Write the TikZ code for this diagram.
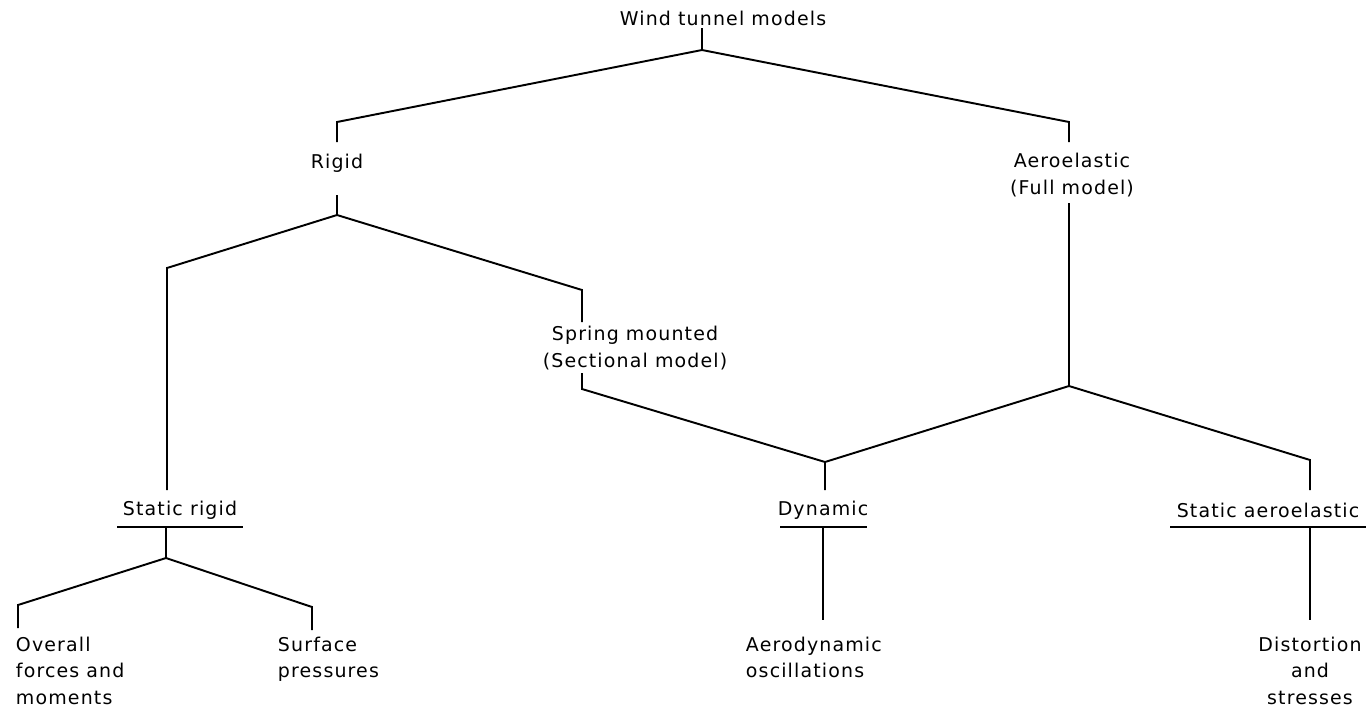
\documentclass[tikz,border=0pt]{standalone}
\usepackage{fontspec}
\setmainfont{DejaVu Sans}[LetterSpace=6]
\begin{document}
\begin{tikzpicture}[x=0.02cm,y=-0.02cm,
  line width=1.1pt,
  lbl/.style={inner sep=0pt, font=\fontsize{10.8}{15}\selectfont},
  conn/.style={draw=black, line width=1.1pt, line join=miter}]
\useasboundingbox (0,0) rectangle (1371,711);

% text nodes
\node[lbl] (wtm) at (723,18) {Wind tunnel models};
\node[lbl] (rigid) at (337,163) {Rigid};
\node[lbl,align=center] (aero) at (1072,175) {Aeroelastic\\(Full model)};
\node[lbl,align=center] (spring) at (635,348) {Spring mounted\\(Sectional model)};
\node[lbl] (srig) at (180,510) {Static rigid};
\node[lbl] (dyn) at (823,510) {Dynamic};
\node[lbl] (saero) at (1268,510) {Static aeroelastic};
\node[lbl,align=left,anchor=north west] (overall) at (15,636) {Overall\\forces and\\moments};
\node[lbl,align=left,anchor=north west] (surf) at (277,636) {Surface\\pressures};
\node[lbl,align=left,anchor=north west] (aerod) at (745,636) {Aerodynamic\\oscillations};
\node[lbl,align=center,anchor=north] (dist) at (1310,636) {Distortion\\and\\stresses};

% connector points
\coordinate (wtm-b) at (702,28);
\coordinate (j0) at (702,50);
\coordinate (k1) at (337,122);
\coordinate (rig-t) at (337,142);
\coordinate (k2) at (1069,122);
\coordinate (aero-t) at (1069,142);
\coordinate (rig-b) at (337,195);
\coordinate (j1) at (337,215);
\coordinate (k3) at (167,268);
\coordinate (srig-t) at (167,490);
\coordinate (k4) at (582,290);
\coordinate (spr-t) at (582,322);
\coordinate (spr-b) at (582,373);
\coordinate (k5) at (582,389);
\coordinate (aero-b) at (1069,203);
\coordinate (j2) at (1069,386);
\coordinate (j3) at (825,462);
\coordinate (dyn-t) at (825,490);
\coordinate (k6) at (1310,460);
\coordinate (saero-t) at (1310,490);
% underlines
\coordinate (ul1a) at (117,527);
\coordinate (ul1b) at (243,527);
\coordinate (ul2a) at (780,527);
\coordinate (ul2b) at (867,527);
\coordinate (ul3a) at (1170,527);
\coordinate (ul3b) at (1366,527);
\coordinate (srig-b) at (166,527);
\coordinate (j4) at (166,558);
\coordinate (k7) at (18,605);
\coordinate (ov-t) at (18,628);
\coordinate (k8) at (312,607);
\coordinate (su-t) at (312,630);
\coordinate (dyn-b) at (823,527);
\coordinate (aerod-t) at (823,620);
\coordinate (saero-b) at (1310,527);
\coordinate (dist-t) at (1310,620);

% connectors
\draw[conn] (wtm-b) -- (j0);
\draw[conn] (rig-t) -- (k1) -- (j0) -- (k2) -- (aero-t);
\draw[conn] (rig-b) -- (j1);
\draw[conn] (srig-t) -- (k3) -- (j1) -- (k4) -- (spr-t);
\draw[conn] (spr-b) -- (k5) -- (j3) -- (dyn-t);
\draw[conn] (aero-b) -- (j2) -- (j3);
\draw[conn] (j2) -- (k6) -- (saero-t);
\draw[conn] (ul1a) -- (ul1b);
\draw[conn] (ul2a) -- (ul2b);
\draw[conn] (ul3a) -- (ul3b);
\draw[conn] (srig-b) -- (j4);
\draw[conn] (ov-t) -- (k7) -- (j4) -- (k8) -- (su-t);
\draw[conn] (dyn-b) -- (aerod-t);
\draw[conn] (saero-b) -- (dist-t);
\end{tikzpicture}
\end{document}
